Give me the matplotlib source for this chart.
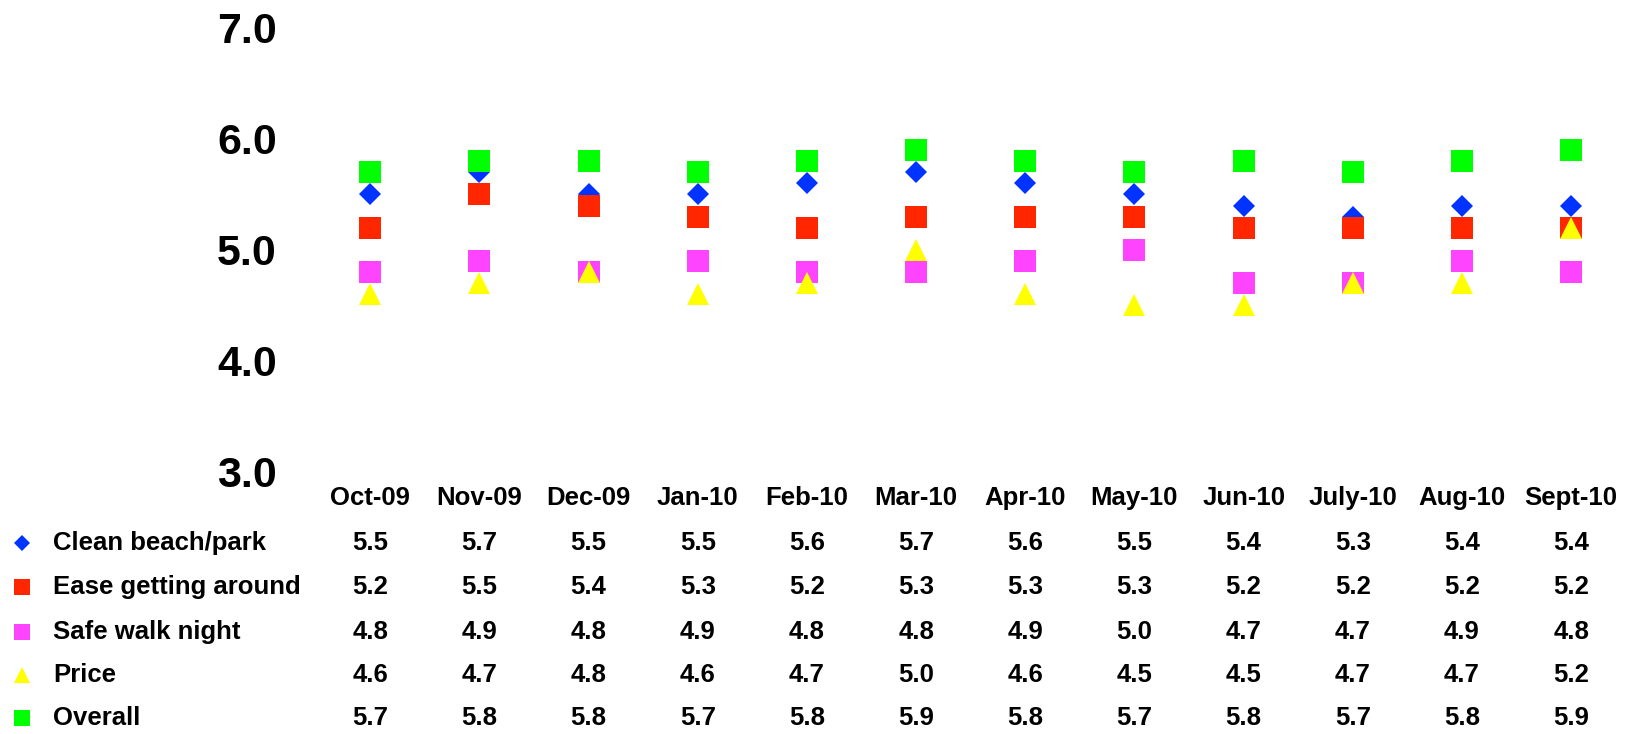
import matplotlib.pyplot as plt
from matplotlib.transforms import blended_transform_factory

months = ['Oct-09', 'Nov-09', 'Dec-09', 'Jan-10', 'Feb-10', 'Mar-10',
          'Apr-10', 'May-10', 'Jun-10', 'July-10', 'Aug-10', 'Sept-10']
clean = [5.5, 5.7, 5.5, 5.5, 5.6, 5.7, 5.6, 5.5, 5.4, 5.3, 5.4, 5.4]
ease = [5.2, 5.5, 5.4, 5.3, 5.2, 5.3, 5.3, 5.3, 5.2, 5.2, 5.2, 5.2]
safe = [4.8, 4.9, 4.8, 4.9, 4.8, 4.8, 4.9, 5.0, 4.7, 4.7, 4.9, 4.8]
price = [4.6, 4.7, 4.8, 4.6, 4.7, 5.0, 4.6, 4.5, 4.5, 4.7, 4.7, 5.2]
overall = [5.7, 5.8, 5.8, 5.7, 5.8, 5.9, 5.8, 5.7, 5.8, 5.7, 5.8, 5.9]
yticks = [3.0, 4.0, 5.0, 6.0, 7.0]

# name, values, marker, colour, plot marker size, legend marker size
series = [
    ('Clean beach/park', clean, 'D', '#0033FF', 11.5, 7.8),
    ('Ease getting around', ease, 's', '#FF2600', 16.5, 11.5),
    ('Safe walk night', safe, 's', '#FF44FF', 16.5, 11.5),
    ('Price', price, '^', '#FFFF00', 16.5, 11.5),
    ('Overall', overall, 's', '#00FF00', 16.5, 11.5),
]

plt.rcParams['font.family'] = ['Liberation Sans', 'DejaVu Sans']
plt.rcParams['font.weight'] = 'bold'

W, H = 1635, 734
fig = plt.figure(figsize=(W / 100, H / 100), dpi=100)
ax = fig.add_axes([315.6 / W, 1 - 472 / H, (1625.7 - 315.6) / W, (472 - 28) / H])

x = list(range(len(months)))
for i, (name, vals, mk, col, ms, lms) in enumerate(series):
    ax.plot(x, vals, linestyle='none', marker=mk, color=col, markersize=ms,
            markeredgewidth=0, zorder=3 + i, clip_on=False)

ax.set_xlim(-0.5, len(months) - 0.5)
ax.set_ylim(3.0, 7.0)
ax.set_yticks(yticks)
ax.set_yticklabels(['%.1f' % v for v in yticks], fontsize=31, fontweight='bold')
ax.tick_params(axis='y', length=0, pad=28)
ax.set_xticks([])
for s in ax.spines.values():
    s.set_visible(False)

fs = 18.5
# data table under the chart
tr = blended_transform_factory(ax.transData, fig.transFigure)
for i, m in enumerate(months):
    ax.text(i, 1 - 498 / H, m, transform=tr, ha='center', va='center',
            fontsize=fs, fontweight='bold')

row_y = [543, 587, 632, 675, 718]
for (name, vals, mk, col, ms, lms), ry in zip(series, row_y):
    yf = 1 - ry / H
    ax.plot([22 / W], [yf], transform=fig.transFigure, linestyle='none',
            marker=mk, color=col, markersize=lms, markeredgewidth=0, clip_on=False)
    fig.text(53 / W, yf, name, ha='left', va='center', fontsize=fs, fontweight='bold')
    for i, v in enumerate(vals):
        ax.text(i, yf, '%.1f' % v, transform=tr, ha='center', va='center',
                fontsize=fs, fontweight='bold')

fig.savefig('out.png', dpi=100)
